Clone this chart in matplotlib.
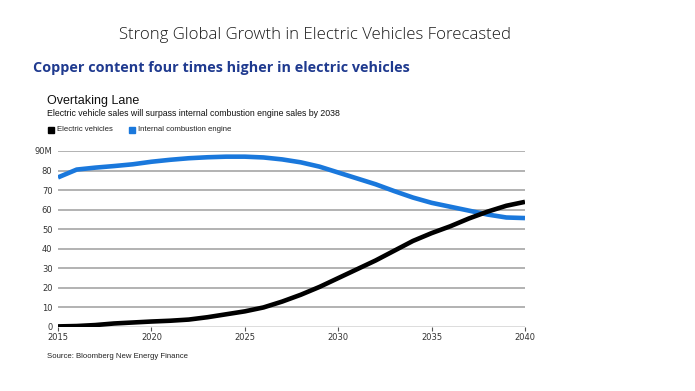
import matplotlib.pyplot as plt

# data (millions of vehicles sold per year)
years = list(range(2015, 2041))
ev_sales = [0.3, 0.5, 1.0, 1.8, 2.3, 2.8, 3.2, 3.8, 5.0, 6.5, 8.0, 10.0, 13.0,
            16.5, 20.5, 25.0, 29.5, 34.0, 39.0, 44.0, 48.0, 51.5, 55.5, 59.0,
            62.0, 64.0]
ice_sales = [76.5, 80.5, 81.5, 82.3, 83.2, 84.5, 85.5, 86.3, 86.8, 87.1, 87.1,
             86.7, 85.7, 84.2, 82.0, 79.0, 76.0, 73.0, 69.5, 66.2, 63.5, 61.5,
             59.5, 57.5, 56.0, 55.7]
yticks = [0, 10, 20, 30, 40, 50, 60, 70, 80, 90]
ytick_labels = ["0", "10", "20", "30", "40", "50", "60", "70", "80", "90M"]
xticks = [2015, 2020, 2025, 2030, 2035, 2040]

W, H = 695, 391
fig = plt.figure(figsize=(W / 100, H / 100), dpi=100)
fig.patch.set_facecolor("white")

# axes: x 2015 -> px 58, 2040 -> px 525 ; y 0 -> px 327, 90 -> px 151
ax = fig.add_axes([58 / W, 1 - 327 / H, (525 - 58) / W, (327 - 151) / H])
ax.set_xlim(2015, 2040)
ax.set_ylim(0, 90)

for y in yticks[1:]:
    ax.axhline(y, color="#9e9e9e", lw=1.1, zorder=1)
ax.axhline(0, color="#555555", lw=1.0, zorder=1)

blue = "#1a78dc"
ax.plot(years, ice_sales, color=blue, lw=3.3, solid_capstyle="butt", zorder=3)
ax.plot(years, ev_sales, color="black", lw=3.3, solid_capstyle="butt", zorder=4)

for s in ax.spines.values():
    s.set_visible(False)
ax.set_yticks(yticks)
ax.set_yticklabels(ytick_labels)
ax.set_xticks(xticks)
ax.set_xticklabels([str(x) for x in xticks])
ax.tick_params(axis="y", length=0, pad=4, labelsize=6, labelcolor="#333333")
ax.tick_params(axis="x", length=3, width=0.8, color="#555555", pad=1.5,
               labelsize=6, labelcolor="#333333", direction="out")

# slide texts
fig.text(315 / W, 1 - 35 / H, "Strong Global Growth in Electric Vehicles Forecasted",
         ha="center", va="center", fontsize=12.1, color="#1a1a1a",
         family="Open Sans", fontweight="light")
fig.text(33 / W, 1 - 68 / H, "Copper content four times higher in electric vehicles",
         ha="left", va="center", fontsize=10.4, color="#1f3a8f",
         family="Open Sans", fontweight="bold")

# chart header
fig.text(47 / W, 1 - 101 / H, "Overtaking Lane", ha="left", va="center",
         fontsize=9, color="#111111", family="Liberation Sans")
fig.text(47 / W, 1 - 113 / H,
         "Electric vehicle sales will surpass internal combustion engine sales by 2038",
         ha="left", va="center", fontsize=6.3, color="#111111", family="Liberation Sans")

# legend
fig.patches.append(plt.Rectangle((48 / W, 1 - 133 / H), 6 / W, 6 / H,
                                 transform=fig.transFigure, color="black"))
fig.text(57 / W, 1 - 129.5 / H, "Electric vehicles", ha="left", va="center",
         fontsize=5.6, color="#222222", family="Liberation Sans")
fig.patches.append(plt.Rectangle((129 / W, 1 - 133 / H), 6 / W, 6 / H,
                                 transform=fig.transFigure, color=blue))
fig.text(138 / W, 1 - 129.5 / H, "Internal combustion engine", ha="left", va="center",
         fontsize=5.6, color="#222222", family="Liberation Sans")

fig.text(47 / W, 1 - 356 / H, "Source: Bloomberg New Energy Finance", ha="left",
         va="center", fontsize=5.6, color="#222222", family="Liberation Sans")

fig.savefig("out.png", dpi=100)
